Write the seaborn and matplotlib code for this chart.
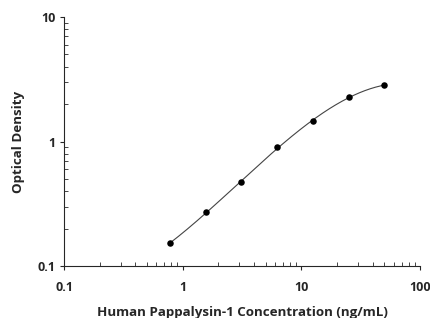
import numpy as np
import pandas as pd
import seaborn as sns
import matplotlib
matplotlib.use("Agg")
from matplotlib import pyplot as plt
from matplotlib.ticker import LogLocator, FixedLocator, NullFormatter

# standard curve
conc = [0.78, 1.56, 3.125, 6.25, 12.5, 25, 50]
od = [0.152, 0.27, 0.47, 0.90, 1.46, 2.27, 2.83]
xticks = [0.1, 1, 10, 100]
xtick_labels = ["0.1", "1", "10", "100"]
yticks = [0.1, 1, 10]
ytick_labels = ["0.1", "1", "10"]

sns.set_style("ticks")
plt.rcParams['font.family'] = ['Open Sans', 'DejaVu Sans']

df = pd.DataFrame({"conc": conc, "od": od})

# smooth fitted curve (cubic in log-log space)
coef = np.polyfit(np.log10(df.conc), np.log10(df.od), 3)
xs = np.logspace(np.log10(min(conc)), np.log10(max(conc)), 200)
fit = pd.DataFrame({"conc": xs, "od": 10 ** np.polyval(coef, np.log10(xs))})

fig = plt.figure(figsize=(4.31, 3.18), dpi=100)
ax = fig.add_axes([0.1485, 0.1635, 0.826, 0.783])
ax.set_xscale("log")
ax.set_yscale("log")

sns.lineplot(data=fit, x="conc", y="od", ax=ax, color="#444444", linewidth=0.8)
sns.scatterplot(data=df, x="conc", y="od", ax=ax, color="black", s=22,
                edgecolor="black", linewidth=0, zorder=3)

ax.set_xlim(0.1, 100)
ax.set_ylim(0.1, 10)
ax.xaxis.set_major_locator(FixedLocator(xticks))
ax.yaxis.set_major_locator(FixedLocator(yticks))
ax.set_xticklabels(xtick_labels, fontweight="bold", fontsize=9)
ax.set_yticklabels(ytick_labels, fontweight="bold", fontsize=9)
ax.xaxis.set_minor_locator(LogLocator(base=10, subs=np.arange(2, 10)))
ax.yaxis.set_minor_locator(LogLocator(base=10, subs=np.arange(2, 10)))
ax.xaxis.set_minor_formatter(NullFormatter())
ax.yaxis.set_minor_formatter(NullFormatter())
ax.tick_params(which="major", direction="out", length=3, width=0.8)
ax.tick_params(which="minor", direction="in", length=3, width=0.6)
ax.tick_params(axis="x", which="major", pad=7.5)
ax.tick_params(axis="y", which="major", pad=3)

for s in ["top", "right"]:
    ax.spines[s].set_visible(False)
for s in ["left", "bottom"]:
    ax.spines[s].set_linewidth(0.8)

ax.set_xlabel("Human Pappalysin-1 Concentration (ng/mL)", fontweight="bold",
              fontsize=9.6, labelpad=9)
ax.set_ylabel("Optical Density", fontweight="bold", fontsize=9.6, labelpad=9)

fig.savefig("out.png", dpi=100)
